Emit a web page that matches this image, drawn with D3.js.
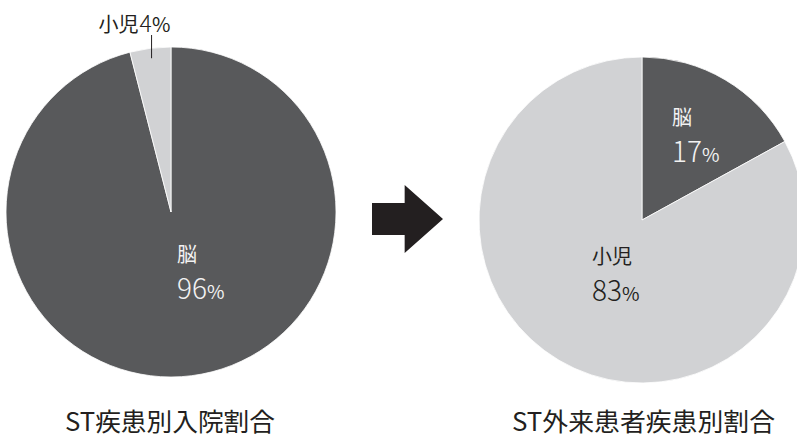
<!DOCTYPE html>
<html><head><meta charset="utf-8">
<script src="https://cdn.jsdelivr.net/npm/d3@7"></script>
<style>
html,body{margin:0;padding:0;background:#fff;}
svg{display:block;font-family:"Noto Sans CJK JP","Noto Sans",sans-serif;}
</style></head>
<body>
<svg id="chart" width="797" height="439"></svg>
<script>
// Disease categories and their shares (%)
const categories = ["脳", "小児"];
const inpatientShares = [96, 4];
const outpatientShares = [17, 83];
const titles = ["ST疾患別入院割合", "ST外来患者疾患別割合"];

const svg = d3.select("#chart");
const color = d3.scaleOrdinal().domain(categories).range(["#58595b", "#d1d2d4"]);
const pie = d3.pie().sort(null).value(d => d.value);

function drawPie(cx, cy, r, shares) {
  const data = categories.map((c, i) => ({ cat: c, value: shares[i] }));
  const arcs = pie(data);
  const g = svg.append("g").attr("transform", `translate(${cx},${cy})`);
  const arc = d3.arc().innerRadius(0).outerRadius(r);
  g.selectAll("path").data(arcs).join("path")
    .attr("d", arc)
    .attr("fill", d => color(d.data.cat))
    .attr("stroke", "#fff")
    .attr("stroke-width", 0.8);
  return { g, arcs };
}

// Two-line slice label: category name over value with a smaller percent sign
function label(g, x, y, name, value, fill, gap) {
  const t = g.append("text").attr("fill", fill).attr("x", x).attr("y", y);
  t.append("tspan").attr("font-size", 20).text(name);
  t.append("tspan").attr("x", x).attr("dy", gap)
    .attr("font-size", 28).attr("font-weight", 300).text(value);
  t.append("tspan").attr("font-size", 19).text("%");
}

// Inpatient pie
const R1 = 165;
const left = drawPie(171, 212, R1, inpatientShares);
label(left.g, 6, 50, categories[0], inpatientShares[0], "#f2f2f2", 37);
// small slice: vertical leader line and outside label
const small = left.arcs[1];
const mid = (small.startAngle + small.endAngle) / 2;
const lx = Math.sin(mid) * (R1 - 10);
const ly = -Math.cos(mid) * (R1 - 10);
left.g.append("line")
  .attr("x1", lx).attr("y1", ly)
  .attr("x2", lx).attr("y2", -177)
  .attr("stroke", "#231f20").attr("stroke-width", 1);
const sl = left.g.append("text")
  .attr("x", lx - 53).attr("y", -180)
  .attr("fill", "#231f20").attr("font-size", 20);
sl.append("tspan").text(categories[1]);
sl.append("tspan").attr("dx", 1).attr("font-size", 23).attr("font-weight", 300).text(inpatientShares[1]);
sl.append("tspan").attr("font-size", 20).text("%");

// Outpatient pie
const right = drawPie(642, 220, 163, outpatientShares);
label(right.g, 30, -95, categories[0], outpatientShares[0], "#f2f2f2", 37);
label(right.g, -50, 44, categories[1], outpatientShares[1], "#231f20", 37);

// Arrow between the two pies
const arrowX = d3.scaleLinear().domain([0, 1]).range([372, 443]);
svg.append("path")
  .attr("d", d3.line()([
    [arrowX(0), 203], [arrowX(0.46), 203], [arrowX(0.46), 185], [arrowX(1), 219],
    [arrowX(0.46), 253], [arrowX(0.46), 235], [arrowX(0), 235]
  ]) + "Z")
  .attr("fill", "#231f20");

// Titles
svg.selectAll("text.title").data(titles).join("text")
  .attr("class", "title")
  .attr("x", (d, i) => [65, 512][i]).attr("y", 431)
  .attr("font-size", 25).attr("fill", "#231f20")
  .attr("textLength", (d, i) => [210, 263][i])
  .attr("lengthAdjust", "spacingAndGlyphs")
  .text(d => d);
</script>
</body></html>
